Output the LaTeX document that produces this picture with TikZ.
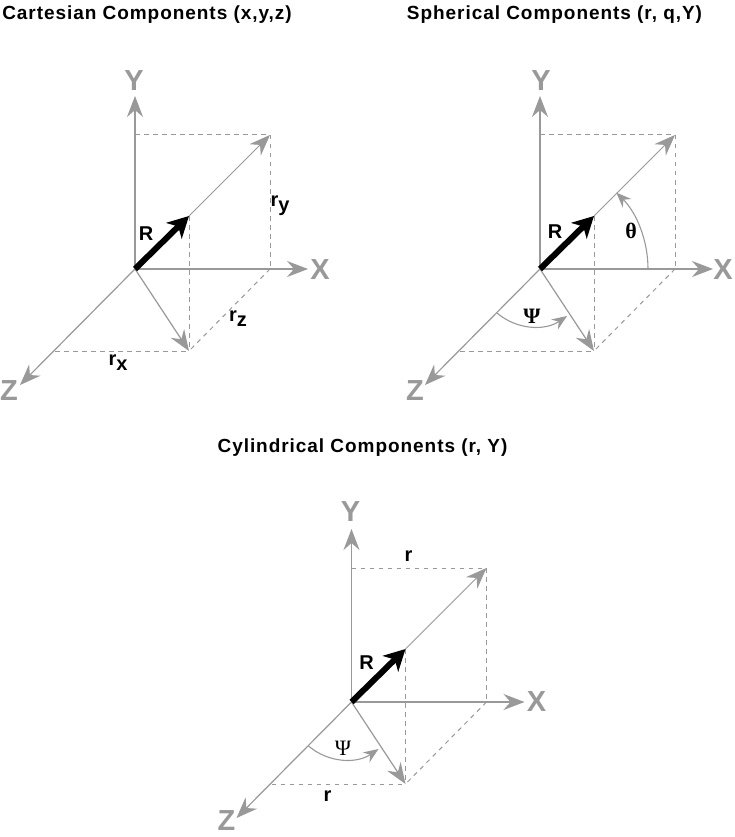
\documentclass[tikz,border=0pt]{standalone}
\usepackage{fontspec}
\setmainfont{Liberation Sans}
\newfontfamily\psifont{Liberation Serif}
\newfontfamily\titlefont[LetterSpace=5]{Liberation Sans Bold}
\newfontfamily\labelfont[LetterSpace=2]{Liberation Sans Bold}
\usetikzlibrary{arrows.meta}
\definecolor{axisgray}{HTML}{999999}
\newcommand{\fpx}[1]{\fontsize{#1}{#1}\selectfont}
\newcommand{\vectorframe}{%
  \coordinate (O) at (0,0);
  \coordinate (Yend) at (0,-173);
  \coordinate (Xend) at (173,0);
  \coordinate (Zend) at (-115,116);
  \coordinate (Corner) at (135,-134);
  \coordinate (Rtip) at (54,-53);
  \coordinate (Foot) at (54,82);
  \coordinate (Xfoot) at (135,0);
  \coordinate (Yfoot) at (0,-134);
  \coordinate (Zfoot) at (-80,82);
  \draw[dashline] (Yfoot) -- (Corner);
  \draw[dashline] (Corner) -- (Xfoot);
  \draw[dashline] (Xfoot) -- (Foot);
  \draw[dashline] (Rtip) -- (Foot);
  \draw[dashline] (Zfoot) -- (Foot);
  \draw[axisline] (O) -- (Yend);
  \draw[axisline] (O) -- (Xend);
  \draw[axisthin] (O) -- (Zend);
  \draw[axisthin] (O) -- (Foot);
  \draw[axisdiag] (Rtip) -- (Corner);
  \draw[rvector] (O) -- (Rtip);
}
\tikzset{
  x=1pt,y=-1pt,
  graytip/.tip={Stealth[length=21pt,width=16pt,inset=7pt]},
  dashline/.style={draw=axisgray,line width=1pt,dash pattern=on 4.5pt off 4.5pt},
  axisline/.style={draw=axisgray,line width=1.5pt,-{graytip}},
  axisthin/.style={draw=axisgray,line width=1.2pt,-{graytip}},
  axisdiag/.style={draw=axisgray,line width=0.9pt,-{graytip}},
  rvector/.style={draw=black,line width=6pt,-{Stealth[length=21pt,width=22pt,inset=6pt]}},
  anglearc/.style={draw=axisgray,line width=1.1pt,-{Stealth[length=15pt,width=12pt,inset=5pt]}},
  titletext/.style={font=\fpx{19}\titlefont,text=black,inner sep=0pt},
  axistext/.style={font=\fpx{29}\labelfont,text=axisgray,inner sep=0pt},
  labeltext/.style={font=\fpx{20}\labelfont,text=black,inner sep=0pt},
  greektext/.style={font=\fpx{22}\psifont\bfseries,text=black,inner sep=0pt},
  thingreek/.style={font=\fpx{22}\psifont,text=black,inner sep=0pt},
}
\begin{document}
\begin{tikzpicture}
\useasboundingbox (0,0) rectangle (735,837);
\fill[white] (0,0) rectangle (735,837);

% Cartesian
\begin{scope}[shift={(135,269)}]
  \vectorframe
  \node[axistext] (y1) at (-1,-188) {Y};
  \node[axistext] (x1) at (185,1) {X};
  \node[axistext] (z1) at (-126,122) {Z};
  \node[labeltext] (r1) at (11,-35) {R};
  \node[labeltext] (ry) at (145,-63) {r\raisebox{-5pt}{y}};
  \node[labeltext] (rz) at (103,50) {r\raisebox{-5pt}{z}};
  \node[labeltext] (rx) at (-17,94) {r\raisebox{-5pt}{x}};
\end{scope}
\node[titletext] (t1) at (147,14.5) {Cartesian Components (x,y,z)};

% Spherical
\begin{scope}[shift={(540,269)}]
  \vectorframe
  \node[axistext] (y2) at (1,-188) {Y};
  \node[axistext] (x2) at (183,1) {X};
  \node[axistext] (z2) at (-125,122) {Z};
  \node[labeltext] (r2) at (15,-37) {R};
  \node[greektext] (th) at (91,-38) {θ};
  \node[greektext] (ps2) at (-8,47) {Ψ};
  \coordinate (thA) at (108,0);
  \draw[anglearc] (thA) arc[start angle=0,end angle=-45,radius=108];
  \coordinate (psA) at (-43,44);
  \coordinate (psB) at (27,47);
  \draw[anglearc] (psA) .. controls (-23,61) and (5,62) .. (psB);
\end{scope}
\node[titletext] (t2) at (554.5,14.5) {Spherical Components (r, q,Y)};

% Cylindrical
\begin{scope}[shift={(351.5,702)}]
  \vectorframe
  \node[axistext] (y3) at (-1,-190) {Y};
  \node[axistext] (x3) at (185,0) {X};
  \node[axistext] (z3) at (-125,119) {Z};
  \node[labeltext] (r3) at (15,-39) {R};
  \node[labeltext] (rt) at (57,-146) {r};
  \node[labeltext] (rb) at (-24,94) {r};
  \node[thingreek] (ps3) at (-8.5,46) {Ψ};
  \coordinate (psC) at (-43,44);
  \coordinate (psD) at (27,47);
  \draw[anglearc] (psC) .. controls (-23,61) and (5,62) .. (psD);
\end{scope}
\node[titletext] (t3) at (362.5,447.5) {Cylindrical Components (r, Y)};
\end{tikzpicture}
\end{document}
